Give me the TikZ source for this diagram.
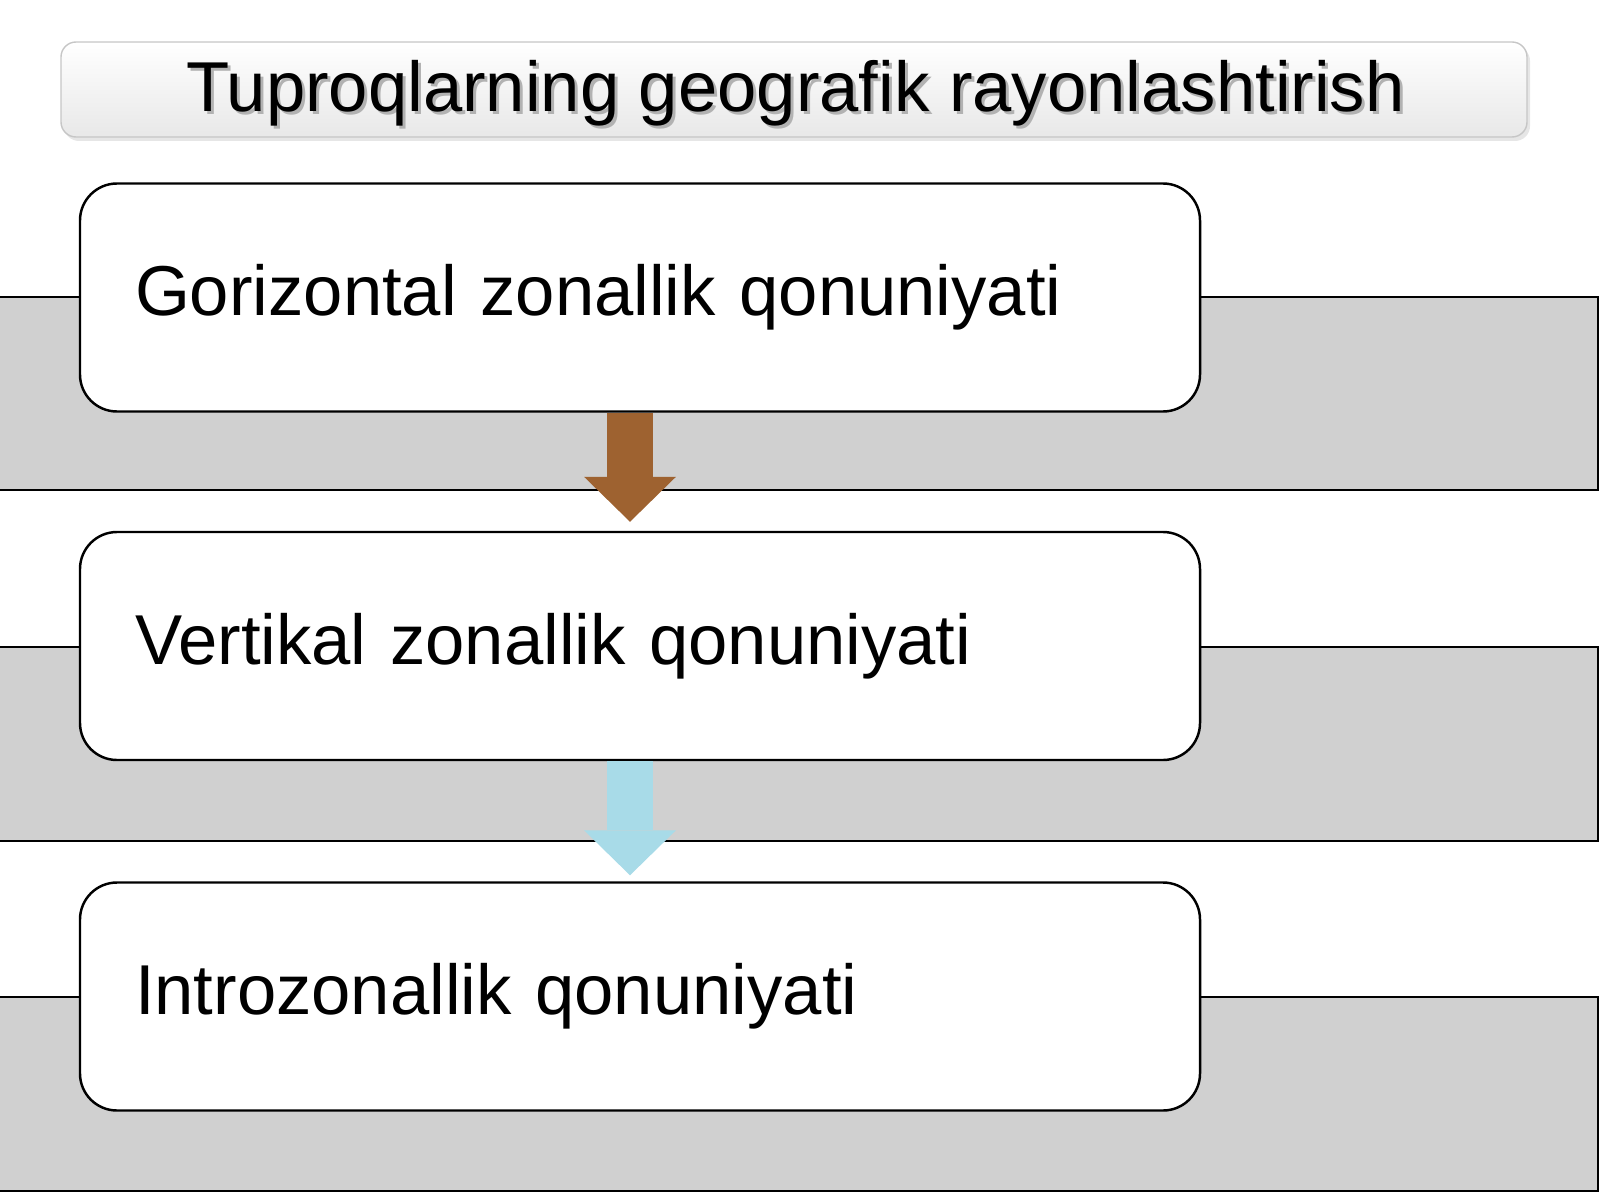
\documentclass[tikz,border=0pt]{standalone}
\usepackage{fontspec}
\setmainfont{Liberation Sans}
\usetikzlibrary{positioning,arrows.meta,shadows,calc}

\definecolor{bandgrey}{RGB}{208,208,208}
\definecolor{woodbrown}{RGB}{158,98,48}
\definecolor{icyblue}{RGB}{168,219,232}

\tikzset{
	band/.style={fill=bandgrey, draw=black, line width=0.6pt},
	lawbox/.style={draw=black, fill=white, line width=0.7pt, rounded corners=0.37cm,
		minimum height=2.28cm, text width=10.1cm, inner xsep=0.55cm, align=left,
		font=\fontsize{20.1pt}{24pt}\selectfont},
	titlebox/.style={draw=gray!45, top color=white, bottom color=gray!18, rounded corners=0.15cm,
		minimum width=14.66cm, minimum height=0.95cm,
		drop shadow={shadow xshift=0.03cm, shadow yshift=-0.04cm, opacity=0.2}},
	titletext/.style={font=\fontsize{20.1pt}{24pt}\selectfont, inner sep=0pt},
	fatarrow/.style={line width=0.46cm, -{Triangle[width=0.92cm, length=0.45cm, line width=0pt]}},
}

\begin{document}
\begin{tikzpicture}
	\useasboundingbox (0,0) rectangle (16,12);
	% grey bands behind the boxes
	\draw[band] (-0.1,9.03) rectangle (15.98,7.10);
	\draw[band] (-0.1,5.53) rectangle (15.98,3.59);
	\draw[band] (-0.1,2.03) rectangle (15.98,0.09);

	\draw (7.94,11.105) node [titlebox] (title) {};
	\draw (7.985,10.85) node [titletext, anchor=base, gray!60] (shade) {Tuproqlarning geografik rayonlashtirish};
	\draw (7.955,10.88) node [titletext, anchor=base] (head) {Tuproqlarning geografik rayonlashtirish};

	\draw (6.40,9.025) node [lawbox] (gor) {Gorizontal zonallik qonuniyati};
	\draw (6.40,5.54) node [lawbox] (ver) {Vertikal zonallik qonuniyati};
	\draw (6.40,2.035) node [lawbox] (intro) {Introzonallik qonuniyati};

	\draw[fatarrow, woodbrown] ($(gor.south)+(-0.1,0)$) -- ($(ver.north)+(-0.1,0.09)$);
	\draw[fatarrow, icyblue] ($(ver.south)+(-0.1,0)$) -- ($(intro.north)+(-0.1,0.06)$);
\end{tikzpicture}
\end{document}
